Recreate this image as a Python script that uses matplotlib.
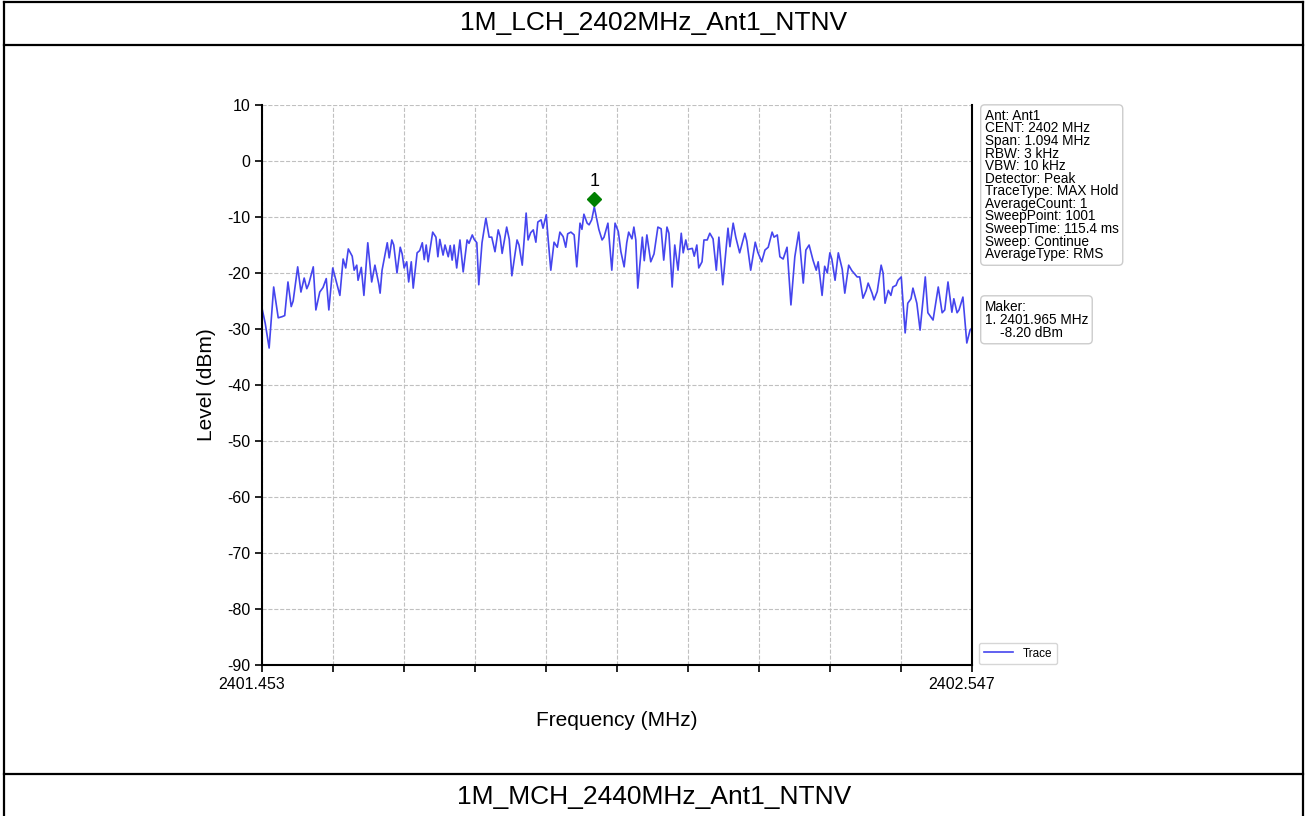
import numpy as np
import matplotlib
matplotlib.use('Agg')
import matplotlib.pyplot as plt
from matplotlib import transforms
from matplotlib.lines import Line2D

plt.rcParams['font.family'] = ['Liberation Sans', 'DejaVu Sans']
plt.rcParams['axes.unicode_minus'] = False

# DATA

start_mhz = 2401.453
stop_mhz  = 2402.547

# frequency offset from start (kHz) and trace level (dBm)
offset_khz = [0, 5, 11, 18, 25, 31, 35, 40, 45, 48, 55, 60, 65, 69, 72, 79, 83, 89, 94, 99,
              103, 109, 116, 120, 125, 129, 133, 139, 142, 146, 148, 153, 157, 163, 169, 174, 180, 182, 185, 193,
              196, 200, 203, 208, 213, 216, 219, 223, 226, 230, 233, 239, 243, 247, 250, 253, 256, 263, 268, 271,
              274, 279, 282, 287, 290, 293, 296, 300, 305, 310, 316, 319, 324, 327, 331, 334, 339, 345, 350, 354,
              359, 364, 367, 370, 377, 381, 385, 393, 396, 401, 407, 410, 414, 418, 422, 425, 430, 433, 438, 441,
              445, 450, 455, 459, 464, 468, 471, 476, 481, 485, 490, 493, 496, 501, 504, 508, 512, 516, 519, 524,
              527, 533, 539, 544, 549, 553, 558, 562, 565, 570, 573, 576, 579, 586, 589, 593, 599, 604, 610, 615,
              619, 624, 627, 632, 636, 641, 646, 649, 653, 656, 663, 666, 670, 673, 678, 681, 686, 690, 695, 700,
              704, 710, 718, 721, 726, 730, 736, 744, 747, 753, 760, 764, 770, 775, 780, 786, 789, 794, 798, 803,
              809, 815, 821, 827, 834, 838, 843, 849, 854, 857, 863, 867, 871, 875, 878, 883, 888, 894, 898, 904,
              909, 912, 917, 921, 926, 931, 934, 940, 943, 948, 954, 957, 960, 965, 969, 972, 977, 980, 985, 991,
              995, 1000, 1003, 1009, 1014, 1022, 1026, 1034, 1037, 1042, 1048, 1052, 1057, 1063, 1066, 1071, 1074, 1080, 1086, 1091,
              1094]
level_dbm = [-26.3, -29.0, -33.4, -22.5, -28.0, -27.8, -27.6, -21.6, -26.0, -25.0, -18.9, -23.4, -20.9, -22.8, -22.0, -18.9, -26.6, -23.4, -22.6, -21.0,
             -26.6, -19.1, -22.2, -24.0, -17.5, -19.1, -15.7, -17.0, -19.5, -18.6, -21.3, -19.0, -24.0, -14.6, -21.6, -18.6, -22.0, -23.6, -19.5, -14.6,
             -17.3, -14.1, -15.0, -20.0, -15.4, -16.6, -19.1, -18.0, -21.6, -18.0, -22.7, -16.4, -16.0, -14.6, -17.6, -15.0, -18.0, -12.7, -13.6, -17.1,
             -14.0, -16.8, -15.0, -17.1, -15.1, -17.7, -15.0, -19.1, -14.1, -19.8, -14.1, -14.7, -13.2, -14.0, -14.6, -22.1, -14.6, -10.2, -13.6, -13.6,
             -16.2, -12.3, -13.5, -16.5, -11.8, -14.0, -20.5, -14.1, -15.0, -18.6, -9.3, -14.1, -12.8, -12.3, -14.5, -10.9, -10.5, -12.0, -9.6, -14.1,
             -19.5, -14.5, -15.4, -12.7, -13.5, -15.4, -13.0, -12.7, -13.2, -18.9, -11.1, -12.2, -9.5, -11.1, -11.4, -10.5, -8.2, -10.5, -12.2, -14.1,
             -13.6, -11.1, -19.5, -11.1, -12.6, -16.2, -18.9, -14.6, -12.7, -13.9, -11.8, -14.1, -22.7, -13.6, -17.8, -13.2, -18.0, -16.6, -11.8, -12.1,
             -17.7, -11.8, -12.9, -22.5, -15.0, -19.5, -12.9, -16.4, -14.1, -15.8, -15.6, -17.0, -15.0, -19.1, -18.0, -14.1, -14.1, -12.9, -13.9, -19.5,
             -13.6, -22.1, -12.0, -15.3, -11.1, -13.6, -16.4, -12.9, -14.3, -19.5, -14.5, -16.3, -18.0, -15.9, -15.4, -12.7, -13.6, -13.2, -17.1, -17.5,
             -15.4, -25.7, -17.1, -12.7, -21.8, -15.9, -15.0, -17.7, -19.5, -18.0, -24.0, -18.8, -20.0, -16.4, -17.5, -21.3, -16.4, -19.3, -23.6, -18.6,
             -19.6, -20.0, -20.7, -20.7, -24.5, -23.1, -21.8, -23.6, -24.8, -23.3, -18.6, -20.0, -25.4, -23.1, -24.0, -22.5, -22.2, -21.3, -20.7, -30.7,
             -25.4, -24.6, -22.7, -25.4, -30.2, -20.7, -27.1, -28.4, -26.2, -22.5, -27.1, -26.6, -21.6, -27.0, -24.6, -27.1, -26.6, -24.3, -32.5, -30.2,
             -29.8]

marker_freq  = 2401.965
marker_level = -8.20

y_ticks = [10, 0, -10, -20, -30, -40, -50, -60, -70, -80, -90]

info_lines = ["Ant: Ant1", "CENT: 2402 MHz", "Span: 1.094 MHz", "RBW: 3 kHz", "VBW: 10 kHz",
              "Detector: Peak", "TraceType: MAX Hold", "AverageCount: 1", "SweepPoint: 1001",
              "SweepTime: 115.4 ms", "Sweep: Continue", "AverageType: RMS"]

title_top    = "1M_LCH_2402MHz_Ant1_NTNV"
title_bottom = "1M_MCH_2440MHz_Ant1_NTNV"

#=================================================================================================#

freq = start_mhz + np.array(offset_khz) / 1000.0

W, H = 1308, 816
fig = plt.figure(figsize=(W / 100, H / 100), dpi=100)

# table frame around the chart
def hline(y, x0=4, x1=1303):
    fig.add_artist(Line2D([x0 / W, x1 / W], [1 - y / H, 1 - y / H], color='black', lw=1.6,
                          transform=fig.transFigure))
def vline(x, y0=0, y1=H):
    fig.add_artist(Line2D([x / W, x / W], [1 - y0 / H, 1 - y1 / H], color='black', lw=1.6,
                          transform=fig.transFigure))

hline(2)
hline(45)
hline(774)
vline(4, 2, H)
vline(1303, 2, H)

fig.text(0.5, 1 - 23 / H, title_top, ha='center', va='center', fontsize=19)
fig.text(0.5, 1 - 797 / H, title_bottom, ha='center', va='center', fontsize=19)

ax = fig.add_axes([262 / W, 1 - 665 / H, 710 / W, 560 / H])
ax.plot(freq, level_dbm, color='#4545ee', lw=1.2, label='Trace')

# marker, drawn slightly above the trace point like the analyser does
mk_tr = transforms.offset_copy(ax.transData, fig=fig, x=0, y=5.5, units='points')
ax.plot([marker_freq], [marker_level], marker='D', color='green', markersize=7, transform=mk_tr)
txt_tr = transforms.offset_copy(ax.transData, fig=fig, x=0, y=12, units='points')
ax.text(marker_freq, marker_level, "1", transform=txt_tr, ha='center', va='bottom', fontsize=13)

ax.set_xlim(start_mhz, stop_mhz)
ax.set_ylim(-90, 10)
ax.set_yticks(y_ticks)
xt = np.linspace(start_mhz, stop_mhz, 11)
ax.set_xticks(xt)
ax.set_xticklabels([f"{start_mhz:.3f}"] + [""] * 9 + [f"{stop_mhz:.3f}"])
ax.tick_params(axis='both', labelsize=11.5, length=5, width=1.2, direction='out')
for lab in ax.get_xticklabels():
    lab.set_transform(lab.get_transform() + transforms.ScaledTranslation(-10 / 100, 0, fig.dpi_scale_trans))

ax.grid(True, linestyle='--', color='#c0c0c0', lw=0.8)
ax.spines['top'].set_visible(False)
for s in ['left', 'bottom', 'right']:
    ax.spines[s].set_linewidth(1.5)

ax.set_xlabel("Frequency (MHz)", fontsize=15, labelpad=14)
ax.set_ylabel("Level (dBm)", fontsize=15, labelpad=8)

box = dict(boxstyle='round,pad=0.3', fc='white', ec='#cccccc', lw=1.0)
ax.text(1.018, 0.993, "\n".join(info_lines), transform=ax.transAxes, ha='left', va='top',
        fontsize=9.8, linespacing=0.87, bbox=box)
ax.text(1.018, 0.652, f"Maker:\n1. {marker_freq:.3f} MHz\n    {marker_level:.2f} dBm",
        transform=ax.transAxes, ha='left', va='top', fontsize=9.8, linespacing=0.9, bbox=box)

ax.legend(loc='lower left', bbox_to_anchor=(1.005, -0.005), fontsize=8.5, edgecolor='#cccccc',
          handlelength=2.5, borderaxespad=0.3)

fig.savefig("out.png", dpi=100)
